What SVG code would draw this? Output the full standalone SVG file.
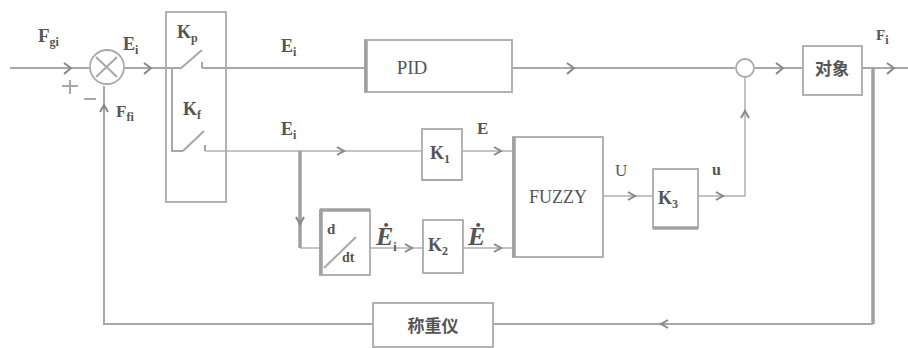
<svg xmlns="http://www.w3.org/2000/svg" width="908" height="348" viewBox="0 0 908 348">
<style>
.ln{stroke:#a8a8a8;stroke-width:2;fill:none}
.thin{stroke:#b0b0b0;stroke-width:1.5;fill:none}
.thick{stroke:#a0a0a0;stroke-width:3.5;fill:none}
.box{stroke:#aaa;stroke-width:1.8;fill:#fff}
.arr{stroke:#888;stroke-width:2;fill:none}
.t{font-family:"Liberation Serif",serif;fill:#555;font-weight:bold}
.n{font-family:"Liberation Serif",serif;fill:#555}
.tc{font-family:"Liberation Serif","Noto Sans CJK SC",serif;fill:#555;font-weight:bold}
.sub{font-size:12px}
</style>
<rect width="908" height="348" fill="#fff"/>
<g id="connectors">
<path class="ln" d="M10,68 H89"/>
<path class="ln" d="M125,68 H172 H180"/>
<path class="ln" d="M172,68 V151 H183"/>
<path class="ln" d="M202,68 H365"/>
<path class="ln" d="M512,68 H735"/>
<path class="ln" d="M755,68 H803"/>
<path class="ln" d="M862,68 H908"/>
<path class="thick" d="M873,68 V324"/>
<path class="ln" d="M873,324 H493"/>
<path class="ln" d="M373,324 H104 V86"/>
<path class="thin" d="M205,151 H422"/>
<path class="thick" d="M300,151 V248"/>
<path class="thin" d="M300,248 H320"/>
<path class="thin" d="M462,151 H513"/>
<path class="thin" d="M370,248 H423"/>
<path class="thin" d="M463,248 H513"/>
<path class="thin" d="M603,196 H653"/>
<path class="thin" d="M698,196 H745 V78"/>
<path class="arr" d="M64,63 L71,68 L64,74"/>
<path class="arr" d="M144,63 L151,68 L144,74"/>
<path class="arr" d="M567,63 L574,68 L567,74"/>
<path class="arr" d="M776,63 L783,68 L776,74"/>
<path class="arr" d="M887,63 L894,68 L887,74"/>
<path class="arr" d="M337,147 L344,151 L337,155"/>
<path class="arr" d="M494,147 L501,151 L494,155"/>
<path class="arr" d="M296,217 L300,224 L304,217"/>
<path class="arr" d="M405,244 L412,248 L405,252"/>
<path class="arr" d="M494,244 L501,248 L494,252"/>
<path class="arr" d="M628,192 L635,196 L628,200"/>
<path class="arr" d="M716,192 L723,196 L716,200"/>
<path class="arr" d="M741,118 L745,111 L749,118"/>
<path class="arr" d="M100,112 L104,105 L108,112"/>
<path class="arr" d="M668,320 L661,324 L668,328"/>
<path class="ln" d="M62,86 H78 M70,80 V94"/>
<path class="ln" d="M84,99 H96"/>
</g>
<g id="sum1">
<circle cx="107" cy="67" r="17" class="box" stroke-width="2.5"/>
<path class="ln" d="M96,57 L117,77 M117,57 L96,77"/>
</g>
<g id="switches">
<rect x="166" y="12" width="60" height="190" class="box" style="fill:none"/>
<path class="ln" d="M180,69 L202,50 M202,62 V68"/>
<path class="ln" d="M183,151 L204,131 M205,145 V151"/>
<text class="t" x="177" y="38" font-size="18">K<tspan class="sub" dy="4">p</tspan></text>
<text class="t" x="183" y="115" font-size="18">K<tspan class="sub" dy="4">f</tspan></text>
</g>
<g id="pid">
<rect x="365" y="40" width="147" height="52" class="box"/>
<path class="thick" d="M366,40 V92"/>
<text class="n" x="412" y="74" font-size="19" text-anchor="middle">PID</text>
</g>
<g id="sum2"><circle cx="745" cy="68" r="9" class="box" stroke-width="2"/></g>
<g id="plant">
<rect x="803" y="46" width="59" height="49" class="box"/>
<text class="tc" x="832" y="75" font-size="17" text-anchor="middle">对象</text>
</g>
<g id="k1">
<rect x="422" y="129" width="40" height="51" class="box"/>
<path class="ln" d="M422,180 H462"/>
<text class="t" x="430" y="159" font-size="18">K<tspan class="sub" dy="4">1</tspan></text>
</g>
<g id="fuzzy">
<rect x="513" y="137" width="90" height="120" class="box"/>
<path class="thick" d="M514,137 V257"/>
<text class="n" x="558" y="203" font-size="18" text-anchor="middle">FUZZY</text>
</g>
<g id="ddt">
<rect x="320" y="210" width="50" height="65" class="box"/>
<path class="thick" d="M320,210 H370 M321,210 V275"/>
<path class="ln" d="M324,268 L356,237"/>
<text class="t" x="327" y="234" font-size="15">d</text>
<text class="t" x="342" y="262" font-size="14">dt</text>
</g>
<g id="k2">
<rect x="423" y="220" width="40" height="53" class="box"/>
<text class="t" x="428" y="251" font-size="18">K<tspan class="sub" dy="4">2</tspan></text>
</g>
<g id="k3">
<rect x="653" y="169" width="45" height="59" class="box"/>
<path class="thick" d="M653,228 H698"/>
<text class="t" x="658" y="204" font-size="18">K<tspan class="sub" dy="4">3</tspan></text>
</g>
<g id="scale">
<rect x="373" y="303" width="120" height="44" class="box"/>
<text class="tc" x="433" y="332" font-size="17" text-anchor="middle">称重仪</text>
</g>
<g id="labels">
<text class="t" x="38" y="42" font-size="19">F<tspan class="sub" dy="4">gi</tspan></text>
<text class="t" x="123" y="50" font-size="18">E<tspan class="sub" dy="4">i</tspan></text>
<text class="t" x="116" y="117" font-size="17">F<tspan class="sub" dy="4">fi</tspan></text>
<text class="t" x="281" y="52" font-size="18">E<tspan class="sub" dy="4">i</tspan></text>
<text class="t" x="281" y="135" font-size="18">E<tspan class="sub" dy="4">i</tspan></text>
<text class="t" x="477" y="134" font-size="17">E</text>
<text class="t" x="376" y="245" font-size="26" font-style="italic">Ė<tspan class="sub" font-size="13" dy="6" font-style="normal">i</tspan></text>
<text class="t" x="468" y="245" font-size="26" font-style="italic">Ė</text>
<text class="n" x="615" y="176" font-size="17">U</text>
<text class="t" x="712" y="175" font-size="16">u</text>
<text class="t" x="876" y="40" font-size="15">F<tspan class="sub" dy="4">i</tspan></text>
</g>
</svg>
